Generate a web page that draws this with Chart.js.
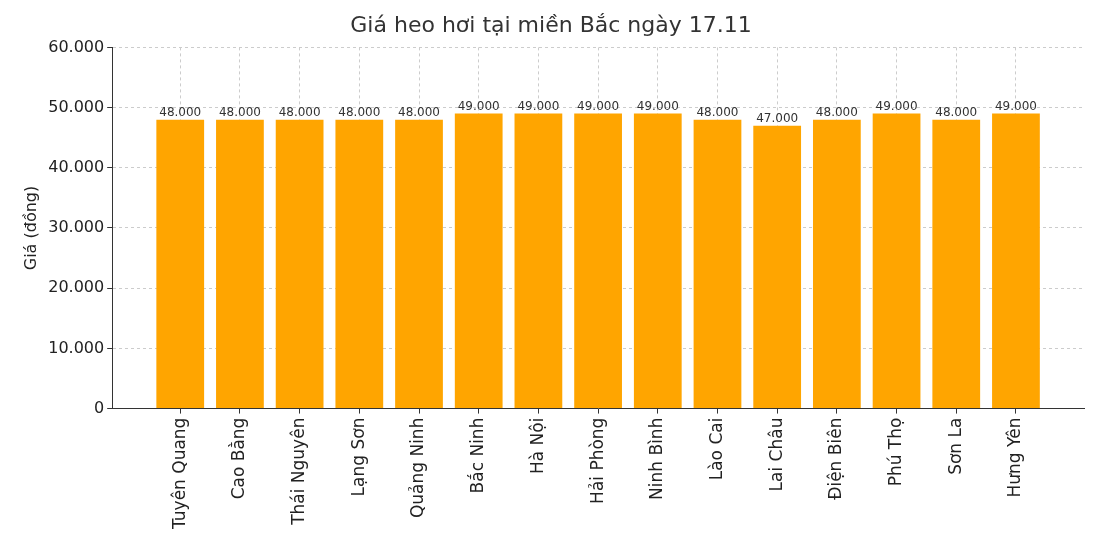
<!DOCTYPE html>
<html>
<head>
<meta charset="utf-8">
<script src="https://cdn.jsdelivr.net/npm/chart.js@4.4.0/dist/chart.umd.min.js"></script>
<style>
  body { margin: 0; background: #fff; }
  #wrap { width: 1100px; height: 550px; }
</style>
</head>
<body>
<div id="wrap"><canvas id="priceChart"></canvas></div>
<script>
const provinces = ["Tuyên Quang", "Cao Bằng", "Thái Nguyên", "Lạng Sơn", "Quảng Ninh", "Bắc Ninh", "Hà Nội",
  "Hải Phòng", "Ninh Bình", "Lào Cai", "Lai Châu", "Điện Biên", "Phú Thọ", "Sơn La", "Hưng Yên"];
const prices = [48000, 48000, 48000, 48000, 48000, 49000, 49000, 49000, 49000, 48000, 47000, 48000, 49000, 48000, 49000];

const fmt = v => v.toString().replace(/\B(?=(\d{3})+(?!\d))/g, ".");

const valueLabels = {
  id: 'valueLabels',
  afterDatasetsDraw(chart) {
    const c = chart.ctx;
    const meta = chart.getDatasetMeta(0);
    c.save();
    c.font = '12px "DejaVu Sans"';
    c.fillStyle = '#333';
    c.textAlign = 'center';
    c.textBaseline = 'bottom';
    meta.data.forEach((bar, i) => c.fillText(fmt(prices[i]), bar.x, bar.y - 1));
    c.restore();
  }
};

Chart.defaults.font.family = '"DejaVu Sans"';
Chart.defaults.color = '#333';

const chart = new Chart(document.getElementById('priceChart'), {
  type: 'bar',
  data: {
    datasets: [{
      data: prices.map((p, i) => ({ x: i, y: p })),
      backgroundColor: '#FFA500',
      barPercentage: 0.8,
      categoryPercentage: 1.0
    }]
  },
  options: {
    responsive: true,
    maintainAspectRatio: false,
    animation: false,
    layout: { padding: { left: 18, right: 16, top: 7, bottom: 17 } },
    plugins: {
      legend: { display: false },
      tooltip: { enabled: false },
      title: { display: true, text: 'Giá heo hơi tại miền Bắc ngày 17.11', font: { size: 22, weight: 'normal' }, padding: { top: 6, bottom: 8 } }
    },
    scales: {
      x: {
        type: 'linear',
        offset: false,
        min: -1.14,
        max: 15.14,
        afterBuildTicks(s) { s.ticks = provinces.map((_, i) => ({ value: i })); },
        ticks: { callback: v => provinces[v], maxRotation: 90, minRotation: 90, font: { size: 17 }, color: '#222', padding: 4 },
        grid: { offset: false, color: '#ccc', tickColor: '#333', tickLength: 5 },
        border: { color: '#333', dash: [3, 3] }
      },
      y: {
        min: 0,
        max: 60000,
        ticks: { stepSize: 10000, callback: v => fmt(v), font: { size: 16 }, color: '#222' },
        title: { display: true, text: 'Giá (đồng)', font: { size: 16 }, color: '#222' },
        grid: { color: '#ccc', tickColor: '#333', tickLength: 5 },
        border: { color: '#333', dash: [3, 3] }
      }
    }
  },
  plugins: [valueLabels]
});
window.chart = chart;
</script>
</body>
</html>
